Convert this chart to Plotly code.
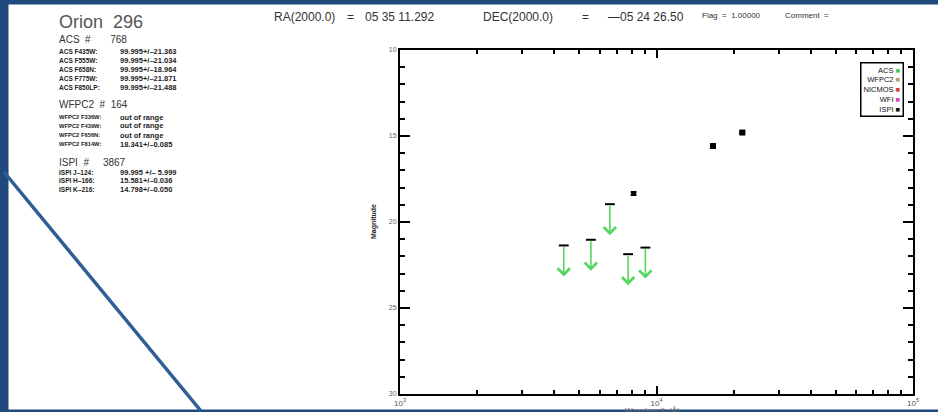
import math
import plotly.graph_objects as go

W, H = 938, 412

# ---------------- data ----------------
object_name = "Orion  296"
ra_text = "05 35 11.292"
dec_text = "—05 24 26.50"
flag_text = "1.00000"

acs_id = 768
acs_filters = ["F435W", "F555W", "F658N", "F775W", "F850LP"]
acs_wave = [4350, 5550, 6580, 7750, 9050]          # Angstrom
acs_value = [99.995, 99.995, 99.995, 99.995, 99.995]
acs_limit = [21.363, 21.034, 18.964, 21.871, 21.488]  # upper limits (mag)

wfpc2_id = 164
wfpc2_filters = ["F336W", "F439W", "F656N", "F814W"]
wfpc2_status = ["out of range", "out of range", "out of range", "18.341+/–0.085"]
wfpc2_wave = [8140]
wfpc2_mag = [18.341]
wfpc2_err = [0.085]

ispi_id = 3867
ispi_bands = ["J–124", "H–166", "K–216"]
ispi_status = ["99.995 +/– 5.999", "15.581+/–0.036", "14.798+/–0.050"]
ispi_wave = [16600, 21600]
ispi_mag = [15.581, 14.798]
ispi_err = [0.036, 0.050]

legend_names = ["ACS", "WFPC2", "NICMOS", "WFI", "ISPI"]
legend_colors = ["#3fcf4a", "#b59d6c", "#e0383a", "#cc44bb", "#111111"]

x_major = [1e3, 1e4, 1e5]
x_major_text = ["10<sup>3</sup>", "10<sup>4</sup>", "10<sup>5</sup>"]
y_major = [10, 15, 20, 25, 30]

# ---------------- style ----------------
BLUE = "#1f497d"
LINE_BLUE = "#2f5e96"
ARROW_GREEN = "#55d65e"
ARROW_LEN = 1.8
FONT = "Liberation Sans, Arial, sans-serif"


def px(x):
    return x / W


def py(y):
    return 1 - y / H


fig = go.Figure()

# caps of the upper limits
fig.add_trace(go.Scatter(
    x=acs_wave, y=acs_limit, mode="markers",
    marker=dict(symbol="line-ew", size=7, line=dict(width=2, color="black")),
    showlegend=False, hoverinfo="skip"))

# WFPC2 detection
fig.add_trace(go.Scatter(
    x=wfpc2_wave, y=wfpc2_mag, mode="markers",
    marker=dict(symbol="square", size=5, color="black"),
    error_y=dict(type="data", array=wfpc2_err, color="black", thickness=1.5, width=3),
    showlegend=False))

# ISPI detections
fig.add_trace(go.Scatter(
    x=ispi_wave, y=ispi_mag, mode="markers",
    marker=dict(symbol="square", size=6, color="black"),
    error_y=dict(type="data", array=ispi_err, color="black", thickness=1.5, width=3),
    showlegend=False))

annotations = []

# upper-limit arrows
for w, lim in zip(acs_wave, acs_limit):
    lx = math.log10(w)
    annotations.append(dict(
        x=lx, y=lim + ARROW_LEN, ax=lx, ay=lim,
        xref="x", yref="y", axref="x", ayref="y",
        text="", showarrow=True, arrowhead=4, arrowsize=1.5,
        arrowwidth=1.6, arrowcolor=ARROW_GREEN))


def txt(x, y, s, size, color="#222", anchor="left", bold=False, **kw):
    if bold:
        s = "<b>" + s + "</b>"
    annotations.append(dict(
        x=px(x), y=py(y), xref="paper", yref="paper", text=s, showarrow=False,
        xanchor=anchor, yanchor="middle", font=dict(family=FONT, size=size, color=color), **kw))


# left information panel
txt(57, 22, object_name, 18, color="#555")
txt(57, 40, f"ACS  #       {acs_id}", 10, color="#333")
for i, (f, v, l) in enumerate(zip(acs_filters, acs_value, acs_limit)):
    yy = 52 + i * 8.9
    txt(57, yy, f"ACS {f}:", 6.5, color="#222", bold=True)
    txt(118, yy, f"{v:.3f}+/–{l:.3f}", 7.5, color="#222", bold=True)
txt(57, 104, f"WFPC2  #  {wfpc2_id}", 10, color="#333")
for i, (f, s) in enumerate(zip(wfpc2_filters, wfpc2_status)):
    yy = 117 + i * 9
    txt(57, yy, f"WFPC2 {f}:", 5.8, color="#222", bold=True)
    txt(118, yy, s, 7.5, color="#222", bold=True)
txt(57, 162, f"ISPI  #     {ispi_id}", 10, color="#333")
for i, (b, s) in enumerate(zip(ispi_bands, ispi_status)):
    yy = 172 + i * 8.6
    txt(57, yy, f"ISPI {b}:", 6.5, color="#222", bold=True)
    txt(118, yy, s, 7.5, color="#222", bold=True)

# header line
txt(272, 17, "RA(2000.0)", 12, color="#333")
txt(345, 17, "=", 12, color="#333")
txt(363, 17, ra_text, 12, color="#333")
txt(481, 17, "DEC(2000.0)", 12, color="#333")
txt(580, 17, "=", 12, color="#333")
txt(606, 17, dec_text, 12, color="#333")
txt(700, 16, f"Flag  =  {flag_text}", 8, color="#333")
txt(783, 16, "Comment  =", 8, color="#333")

# y title
annotations.append(dict(
    x=px(374), y=py(222), xref="paper", yref="paper", text="<b>Magnitude</b>",
    textangle=-90, showarrow=False, xanchor="center", yanchor="middle",
    font=dict(family=FONT, size=7, color="#222")))

# x title (partly hidden by the frame, as in the original)
annotations.append(dict(
    x=px(652), y=py(404), xref="paper", yref="paper", text="Wavelength (Å)",
    showarrow=False, xanchor="center", yanchor="top",
    font=dict(family=FONT, size=8, color="#666")))

# legend box
leg_lines = [f"{n} <span style='color:{c}'>■</span>" for n, c in zip(legend_names, legend_colors)]
annotations.append(dict(
    x=px(904), y=py(62), xref="paper", yref="paper", text="<br>".join(leg_lines),
    showarrow=False, xanchor="right", yanchor="top", align="right",
    bordercolor="black", borderwidth=1.5, borderpad=2, bgcolor="white",
    font=dict(family=FONT, size=7.5, color="#111")))

shapes = [
    # slide frame
    dict(type="rect", xref="paper", yref="paper", x0=0, x1=px(8.5), y0=0, y1=1,
         fillcolor=BLUE, line=dict(width=0), layer="below"),
    dict(type="rect", xref="paper", yref="paper", x0=0, x1=1, y0=py(4.5), y1=1,
         fillcolor=BLUE, line=dict(width=0), layer="below"),
    dict(type="rect", xref="paper", yref="paper", x0=0, x1=1, y0=0, y1=py(409.5),
         fillcolor=BLUE, line=dict(width=0), layer="below"),
    dict(type="line", xref="paper", yref="paper", x0=px(4), y0=py(172), x1=px(201), y1=py(411),
         line=dict(color=LINE_BLUE, width=3.5), layer="below"),
]

x_minor = [k * 10 ** n for n in (3, 4) for k in range(2, 10)]

fig.update_layout(
    width=W, height=H, autosize=False,
    margin=dict(l=0, r=0, t=0, b=0),
    paper_bgcolor="white", plot_bgcolor="white",
    showlegend=False,
    annotations=annotations, shapes=shapes,
    xaxis=dict(
        type="log", range=[3, 5], domain=[px(400), px(913)],
        showline=True, linecolor="black", linewidth=2, mirror="ticks",
        ticks="inside", ticklen=8, tickwidth=1.5, tickcolor="black",
        tickmode="array", tickvals=x_major, ticktext=x_major_text,
        tickfont=dict(family=FONT, size=8, color="#555"),
        showgrid=False, zeroline=False, automargin=False,
        minor=dict(tickmode="array", tickvals=x_minor, ticks="inside", ticklen=4,
                   tickwidth=1.5, tickcolor="black", showgrid=False),
    ),
    yaxis=dict(
        range=[30, 10], domain=[1 - 394 / H, 1 - 50 / H],
        showline=True, linecolor="black", linewidth=2, mirror="ticks",
        ticks="inside", ticklen=10, tickwidth=1.5, tickcolor="black",
        tickmode="array", tickvals=y_major,
        tickfont=dict(family=FONT, size=7, color="#666"),
        showgrid=False, zeroline=False, automargin=False,
        minor=dict(dtick=1, ticks="inside", ticklen=5, tickwidth=1.5,
                   tickcolor="black", showgrid=False),
    ),
)

fig.write_html("out.html")
